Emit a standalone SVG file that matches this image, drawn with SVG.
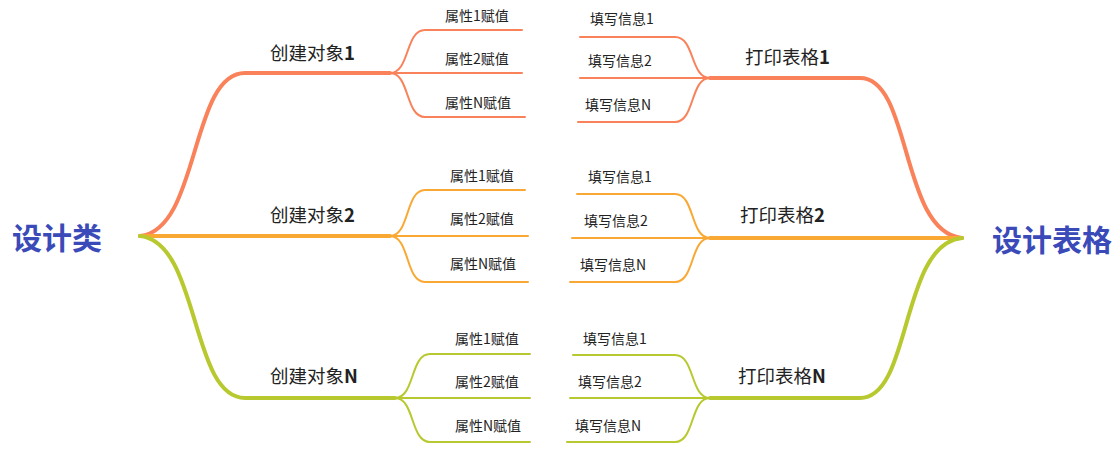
<svg xmlns="http://www.w3.org/2000/svg" width="1120" height="450" viewBox="0 0 1120 450">
<style>
text{font-family:"Noto Sans CJK SC","Noto Sans",sans-serif;fill:#222}
.root{font-size:30px;font-weight:bold;fill:#3a4ab8}
.b{font-size:18.5px}
.l{font-size:14px}
path{fill:none;stroke-linecap:round}
.r{stroke:#f9825a}.o{stroke:#f9a833}.g{stroke:#b7c92f}
.m{stroke-width:4}.s{stroke-width:2}
</style>
<rect width="1120" height="450" fill="#fff"/>
<g id="connectors">
<path class="r m" d="M140,236 C200,230 190,73 245,73 L390,73"/>
<path class="o m" d="M140,236 L390,236"/>
<path class="g m" d="M140,236 C200,242 190,398 245,398 L395,398"/>
<path class="r s" d="M390,73 C410,73 405,30 425,30 L522,30 M390,73 L522,73 M390,73 C410,73 405,117 425,117 L525,117"/>
<path class="o s" d="M390,236 C410,236 405,190 425,190 L525,190 M390,236 L528,236 M390,236 C410,236 405,282 425,282 L528,282"/>
<path class="g s" d="M395,398 C415,398 410,354 430,354 L530,354 M395,398 L530,398 M395,398 C415,398 410,442 430,442 L530,442"/>
<path class="r m" d="M962,238 C900,232 912,78 860,78 L710,78"/>
<path class="o m" d="M962,238 L710,238"/>
<path class="g m" d="M962,238 C900,244 912,398 860,398 L710,398"/>
<path class="r s" d="M710,78 C690,78 695,37 675,37 L580,37 M710,78 L580,78 M710,78 C690,78 695,122 675,122 L578,122"/>
<path class="o s" d="M710,238 C690,238 695,194 675,194 L577,194 M710,238 L572,238 M710,238 C690,238 695,282 675,282 L570,282"/>
<path class="g s" d="M710,398 C690,398 695,355 675,355 L573,355 M710,398 L570,398 M710,398 C690,398 695,442 675,442 L567,442"/>
</g>
<g id="root-left"><text class="root" x="12" y="249">设计类</text></g>
<g id="root-right"><text class="root" x="992" y="251">设计表格</text></g>
<g id="obj1"><text class="b" x="270" y="60">创建对象<tspan font-weight="bold">1</tspan></text></g>
<g id="obj2"><text class="b" x="270" y="222">创建对象<tspan font-weight="bold">2</tspan></text></g>
<g id="objN"><text class="b" x="270" y="383">创建对象<tspan font-weight="bold">N</tspan></text></g>
<g id="attrs">
<text class="l" x="445" y="21">属性1赋值</text>
<text class="l" x="445" y="64">属性2赋值</text>
<text class="l" x="445" y="108">属性N赋值</text>
<text class="l" x="450" y="181">属性1赋值</text>
<text class="l" x="450" y="224">属性2赋值</text>
<text class="l" x="450" y="269">属性N赋值</text>
<text class="l" x="455" y="344">属性1赋值</text>
<text class="l" x="455" y="387">属性2赋值</text>
<text class="l" x="455" y="431">属性N赋值</text>
</g>
<g id="tab1"><text class="b" x="745" y="64">打印表格<tspan font-weight="bold">1</tspan></text></g>
<g id="tab2"><text class="b" x="740" y="222">打印表格<tspan font-weight="bold">2</tspan></text></g>
<g id="tabN"><text class="b" x="738" y="383">打印表格<tspan font-weight="bold">N</tspan></text></g>
<g id="fills">
<text class="l" x="590" y="24">填写信息1</text>
<text class="l" x="588" y="66">填写信息2</text>
<text class="l" x="585" y="110">填写信息N</text>
<text class="l" x="588" y="182">填写信息1</text>
<text class="l" x="584" y="226">填写信息2</text>
<text class="l" x="580" y="270">填写信息N</text>
<text class="l" x="583" y="344">填写信息1</text>
<text class="l" x="578" y="387">填写信息2</text>
<text class="l" x="575" y="431">填写信息N</text>
</g>
</svg>
